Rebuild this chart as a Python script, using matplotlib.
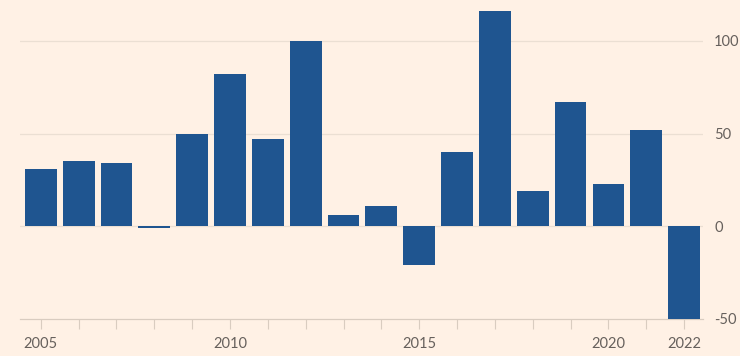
import matplotlib
matplotlib.use("Agg")
import matplotlib.pyplot as plt

# yearly values
years = list(range(2005, 2023))
values = [31, 35, 34, -1, 50, 82, 47, 100, 6, 11, -21, 40, 116, 19, 67, 23, 52, -50]
xlabels = [2005, 2010, 2015, 2020, 2022]
yticks = [-50, 0, 50, 100]

bg = "#FFF1E5"
bar_col = "#1F5590"
grid_col = "#EBDFD3"
text_col = "#66605C"

plt.rcParams["font.family"] = ["Lato", "DejaVu Sans"]

fig = plt.figure(figsize=(7.4, 3.56), dpi=100, facecolor=bg)
ax = fig.add_axes([0.027, 0.104, 0.923, 0.896], facecolor=bg)

ax.bar(years, values, width=0.84, color=bar_col, zorder=3)

ax.set_xlim(2004.45, 2022.5)
ax.set_ylim(-50, 122)

# grid lines, right-hand y axis
ax.yaxis.tick_right()
ax.set_yticks(yticks)
ax.set_yticklabels([str(v) for v in yticks])
ax.tick_params(axis="y", length=0, pad=8, labelsize=10.5, labelcolor=text_col)
for v in yticks[1:]:
    ax.axhline(v, color=grid_col, linewidth=0.9, zorder=1)

# year ticks on every year, labels on a few
ax.set_xticks(years, minor=True)
ax.set_xticks(xlabels)
ax.set_xticklabels([str(y) for y in xlabels])
ax.tick_params(axis="x", which="both", length=7, width=0.8, color="#D9CCC0",
               labelsize=10.5, labelcolor=text_col, pad=6)

for s in ["top", "right", "left"]:
    ax.spines[s].set_visible(False)
ax.spines["bottom"].set_color("#D9CCC0")
ax.spines["bottom"].set_linewidth(0.9)

fig.savefig("out.png", dpi=100, facecolor=bg)
